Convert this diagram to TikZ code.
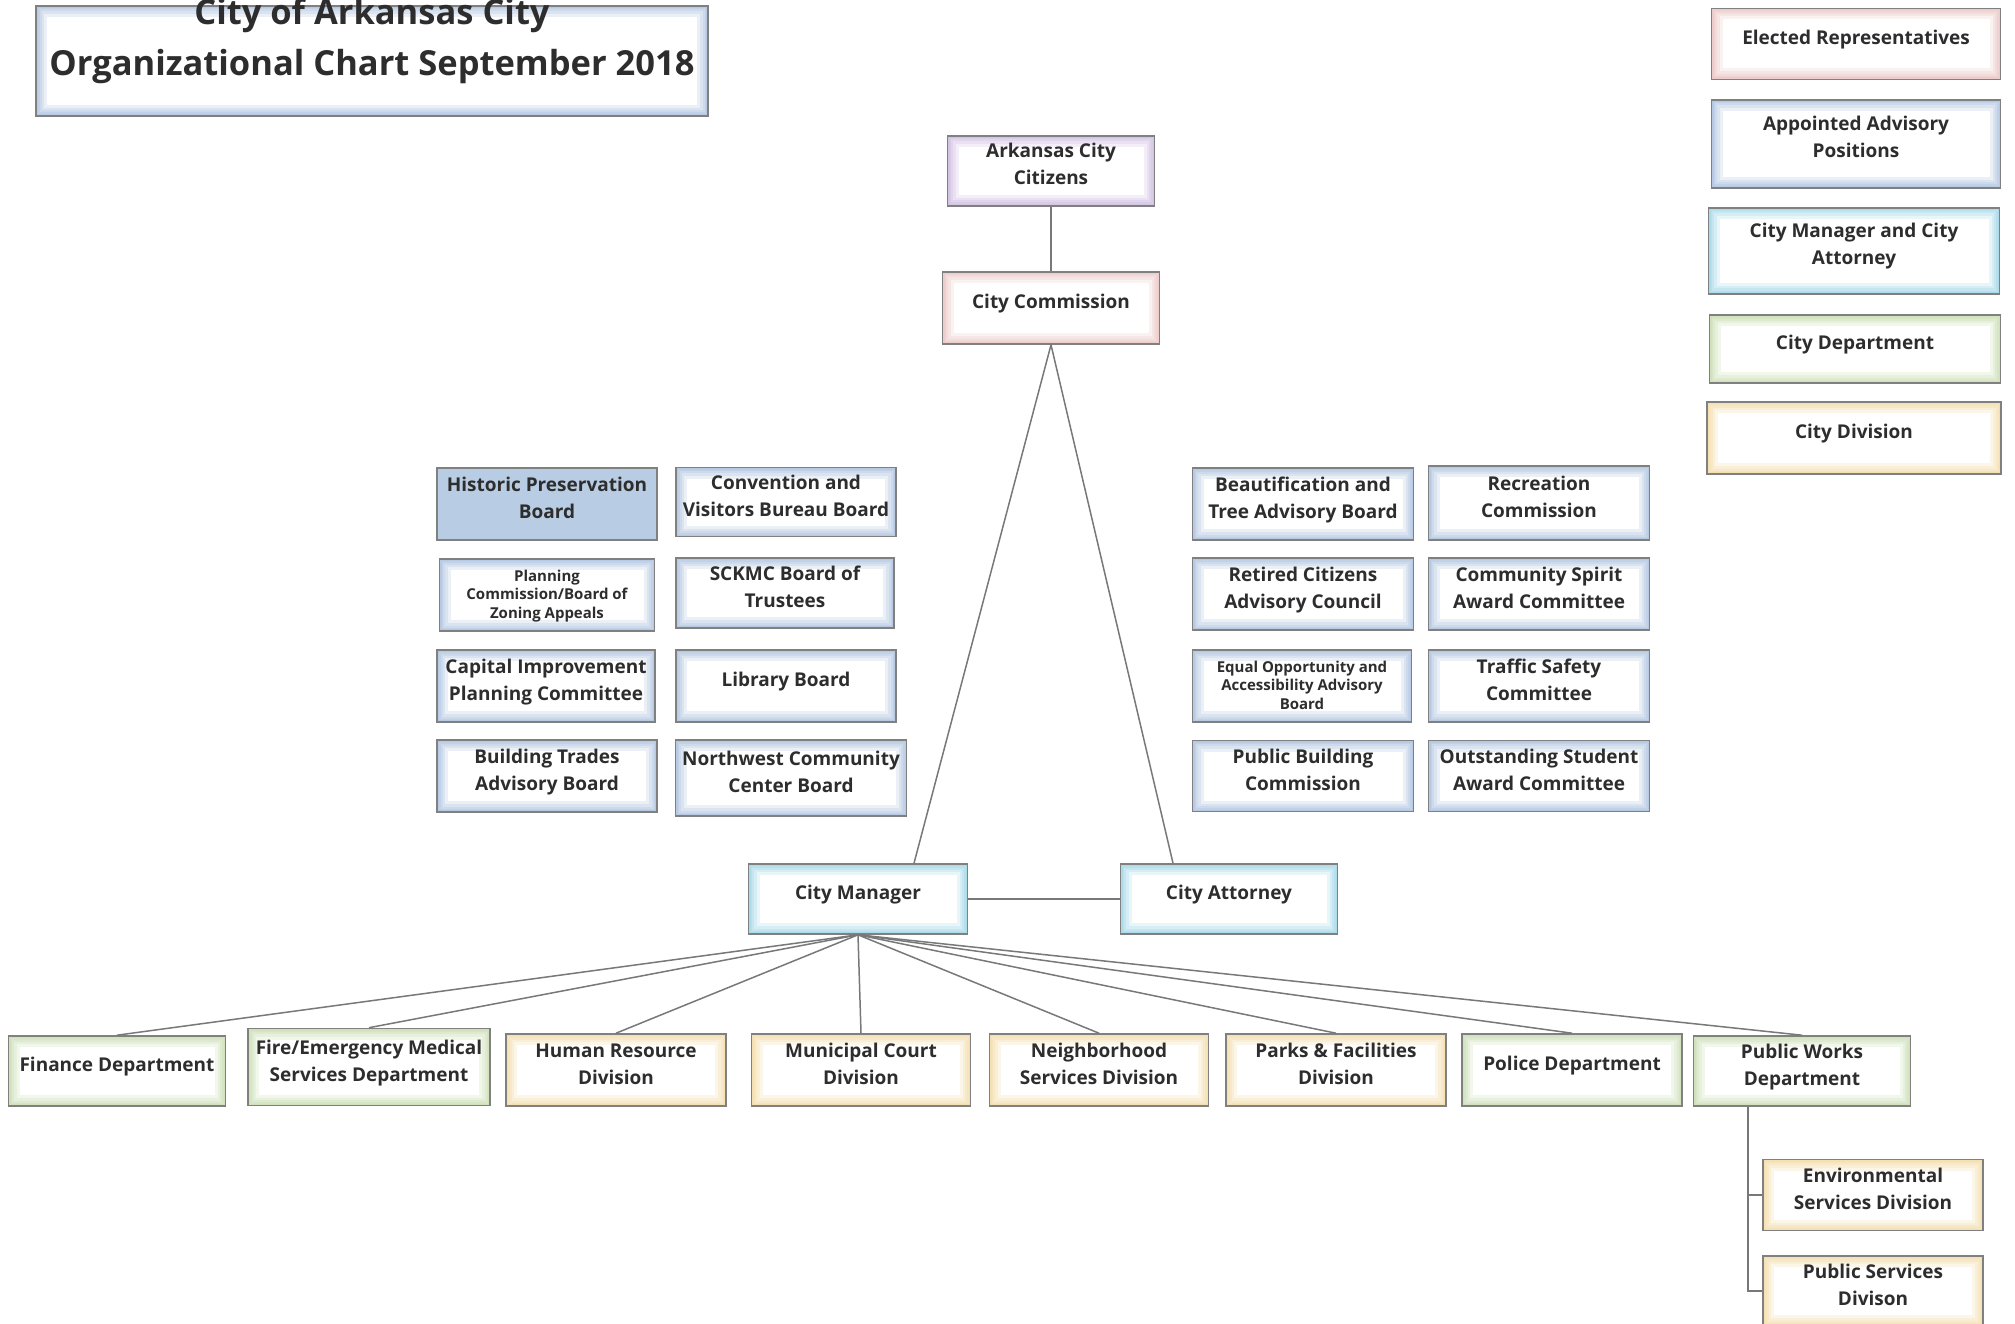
\documentclass[tikz,border=0pt]{standalone}
\usepackage{fontspec}
\setmainfont{Open Sans}
\usepackage{tikz}
\usepackage{xcolor}

\definecolor{boxgray}{RGB}{128,128,128}
\definecolor{linegray}{RGB}{120,120,120}
\definecolor{txtgray}{RGB}{45,45,45}
\definecolor{electpink}{RGB}{228,175,175}
\definecolor{advblue}{RGB}{140,170,212}
\definecolor{mgrcyan}{RGB}{120,200,222}
\definecolor{deptgreen}{RGB}{180,210,145}
\definecolor{divyellow}{RGB}{240,205,130}
\definecolor{citlilac}{RGB}{185,160,212}
\definecolor{histfill}{RGB}{184,204,228}

\begin{document}
\begin{tikzpicture}[x=1pt, y=-1pt,
  every node/.style={font=\bfseries\fontsize{19}{27}\selectfont, text=txtgray, align=center},
  box/.style={draw=boxgray, line width=1.6pt, fill=white, minimum width=220pt, minimum height=72pt,
    inner sep=1pt, text height=42pt, text depth=14pt},
  one/.style={text height=15pt},
  glow/.style={path picture={
    \foreach \w in {22,16,11,7,4}
      \draw[#1, line width=\w pt, opacity=.17] (path picture bounding box.south west) rectangle (path picture bounding box.north east);}},
  elected/.style={box, glow=electpink},
  citizen/.style={box, glow=citlilac},
  advisory/.style={box, glow=advblue},
  manager/.style={box, glow=mgrcyan},
  dept/.style={box, glow=deptgreen},
  division/.style={box, glow=divyellow},
  small/.style={font=\bfseries\fontsize{15}{18.5}\selectfont, text height=50pt, text depth=4pt},
  conn/.style={draw=linegray, line width=1.5pt}]

\useasboundingbox (0,0) rectangle (2015,1324);

% title and legend
\node[box, glow=advblue, minimum width=672pt, minimum height=110pt, text height=40pt, text depth=10pt,
  font=\bfseries\fontsize{34.5}{51}\selectfont] (title) at (372,61)
  {City of Arkansas City\\Organizational Chart September 2018};

\node[elected, one, minimum width=289pt, minimum height=71pt] (legelect) at (1856,44) {Elected Representatives};
\node[advisory, minimum width=289pt, minimum height=88pt] (legadv) at (1856,144) {Appointed Advisory\\Positions};
\node[manager, minimum width=291pt, minimum height=86pt] (legmgr) at (1854,251) {City Manager and City\\Attorney};
\node[dept, one, minimum width=291pt, minimum height=68pt] (legdept) at (1855,349) {City Department};
\node[division, one, minimum width=294pt, minimum height=72pt] (legdiv) at (1854,438) {City Division};

% top of the chart
\node[citizen, minimum width=207pt, minimum height=70pt] (cit) at (1051,171) {Arkansas City\\Citizens};
\node[elected, one, minimum width=217pt] (com) at (1051,308) {City Commission};

\node[manager, one, minimum width=219pt, minimum height=70pt] (mgr) at (858,899) {City Manager};
\node[manager, one, minimum width=217pt, minimum height=70pt] (att) at (1229,899) {City Attorney};

% boards, left block
\node[box, fill=histfill] (hist) at (547,504) {Historic Preservation\\Board};
\node[advisory, minimum height=69pt] (conv) at (786,502) {Convention and\\Visitors Bureau Board};
\node[advisory, small, minimum width=215pt] (plan) at (547,595) {Planning\\Commission/Board of\\Zoning Appeals};
\node[advisory, minimum width=218pt, minimum height=70pt] (sckmc) at (785,593) {SCKMC Board of\\Trustees};
\node[advisory, minimum width=218pt] (cip) at (546,686) {Capital Improvement\\Planning Committee};
\node[advisory, one] (lib) at (786,686) {Library Board};
\node[advisory] (btab) at (547,776) {Building Trades\\Advisory Board};
\node[advisory, minimum width=231pt, minimum height=76pt] (nwcc) at (791,778) {Northwest Community\\Center Board};

% boards, right block
\node[advisory, minimum width=221pt] (beaut) at (1303,504) {Beautification and\\Tree Advisory Board};
\node[advisory, minimum width=221pt, minimum height=74pt] (rec) at (1539,503) {Recreation\\Commission};
\node[advisory, minimum width=221pt] (rcac) at (1303,594) {Retired Citizens\\Advisory Council};
\node[advisory, minimum width=221pt] (spirit) at (1539,594) {Community Spirit\\Award Committee};
\node[advisory, small, minimum width=219pt] (eoaab) at (1302,686) {Equal Opportunity and\\Accessibility Advisory\\Board};
\node[advisory, minimum width=221pt] (traffic) at (1539,686) {Traffic Safety\\Committee};
\node[advisory, minimum width=221pt, minimum height=71pt] (pbc) at (1303,776) {Public Building\\Commission};
\node[advisory, minimum width=221pt, minimum height=71pt] (student) at (1539,776) {Outstanding Student\\Award Committee};

% departments and divisions
\node[dept, one, minimum width=217pt, minimum height=70pt] (fin) at (117,1071) {Finance Department};
\node[dept, minimum width=242pt, minimum height=77pt] (fire) at (369,1067) {Fire/Emergency Medical\\Services Department};
\node[division] (hr) at (616,1070) {Human Resource\\Division};
\node[division, minimum width=219pt] (court) at (861,1070) {Municipal Court\\Division};
\node[division, minimum width=219pt] (neigh) at (1099,1070) {Neighborhood\\Services Division};
\node[division] (parks) at (1336,1070) {Parks \& Facilities\\Division};
\node[dept, one] (police) at (1572,1070) {Police Department};
\node[dept, minimum width=217pt, minimum height=70pt] (pw) at (1802,1071) {Public Works\\Department};
\node[division, minimum height=71pt] (env) at (1873,1195) {Environmental\\Services Division};
\node[division, minimum height=70pt] (pubserv) at (1873,1291) {Public Services\\Divison};

% connectors
\draw[conn] (cit) -- (com);
\draw[conn] (com.south) -- ([xshift=56pt]mgr.north);
\draw[conn] (com.south) -- ([xshift=-56pt]att.north);
\draw[conn] (mgr) -- (att);
\foreach \d in {fin,fire,hr,court,neigh,parks,police,pw}
  \draw[conn] (mgr.south) -- (\d.north);
\coordinate (pwtrunk) at ([xshift=-54pt]pw.south);
\draw[conn] (pwtrunk) |- (env.west);
\draw[conn] (pwtrunk) |- (pubserv.west);
\end{tikzpicture}
\end{document}
